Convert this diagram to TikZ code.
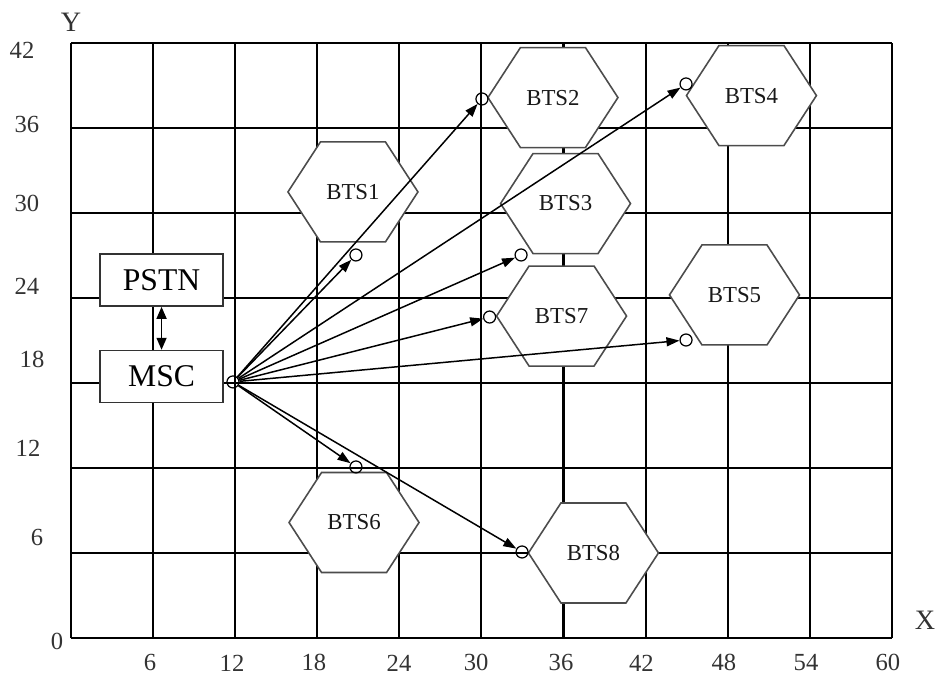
\documentclass[tikz,border=0pt]{standalone}
\usepackage{fontspec}
\setmainfont{Liberation Serif}
\usetikzlibrary{arrows.meta,calc}
\newcommand\hexcell[3]{%
  \draw[hexshape] ($(#2)+(-1.3cm,0)$) -- ++(0.65cm,1.0cm) -- ++(1.3cm,0) -- ++(0.65cm,-1.0cm) -- ++(-0.65cm,-1.0cm) -- ++(-1.3cm,0) -- cycle;
  \node[hexlabel] (#1) at (#2) {#3};}
\begin{document}
\begin{tikzpicture}[x=0.2736cm,y=0.2834cm,
  gridline/.style={line width=1.2pt,black},
  hexshape/.style={draw=black!70,line width=0.9pt,fill=white},
  hexlabel/.style={font=\fontsize{13}{15}\selectfont,text=black!90,inner sep=0pt},
  boxnode/.style={draw=black!80,line width=0.9pt,fill=white,minimum width=2.46cm,minimum height=1.04cm,inner sep=0pt,font=\fontsize{18}{20}\selectfont},
  port/.style={circle,draw,line width=0.7pt,minimum size=0.24cm,inner sep=0pt},
  link/.style={line width=0.85pt,-{Triangle[length=2.6mm,width=1.8mm]}},
  axlabel/.style={font=\fontsize{14}{16}\selectfont,text=black!80,inner sep=0pt}]
\useasboundingbox (-5.190,-2.611) rectangle (63.158,45.025);
% grid
\foreach \i in {0,6,...,60} \draw[gridline] (\i,0) -- (\i,42);
\foreach \j in {0,6,...,42} \draw[gridline] (0,\j) -- (60,\j);
% axis labels
\node[axlabel] (ly42) at (-3.58,41.50) {42};
\node[axlabel] (ly36) at (-3.22,36.27) {36};
\node[axlabel] (ly30) at (-3.22,30.70) {30};
\node[axlabel] (ly24) at (-3.22,24.84) {24};
\node[axlabel] (ly18) at (-2.85,19.69) {18};
\node[axlabel] (ly12) at (-3.14,13.41) {12};
\node[axlabel] (ly6) at (-2.48,7.06) {6};
\node[axlabel] (ly0) at (-1.02,-0.21) {0};
\node[axlabel] (lx6) at (5.77,-1.76) {6};
\node[axlabel] (lx12) at (11.77,-1.76) {12};
\node[axlabel] (lx18) at (17.76,-1.76) {18};
\node[axlabel] (lx24) at (23.98,-1.76) {24};
\node[axlabel] (lx30) at (29.61,-1.76) {30};
\node[axlabel] (lx36) at (35.82,-1.76) {36};
\node[axlabel] (lx42) at (41.70,-1.76) {42};
\node[axlabel] (lx48) at (47.73,-1.76) {48};
\node[axlabel] (lx54) at (53.73,-1.76) {54};
\node[axlabel] (lx60) at (59.72,-1.76) {60};
\node[axlabel,font=\fontsize{16}{18}\selectfont] (xlab) at (62.43,1.27) {X};
\node[axlabel,font=\fontsize{16}{18}\selectfont] (ylab) at (0,43.47) {Y};
% hexagons
\hexcell{bts1}{20.61,31.48}{BTS1}
\hexcell{bts2}{35.23,38.14}{BTS2}
\hexcell{bts3}{36.15,30.66}{BTS3}
\hexcell{bts7}{35.86,22.72}{BTS7}
\hexcell{bts4}{49.74,38.28}{BTS4}
\hexcell{bts5}{48.50,24.21}{BTS5}
\hexcell{bts6}{20.69,8.15}{BTS6}
\hexcell{bts8}{38.19,6.0}{BTS8}
% boxes
\node[boxnode] (pstn) at (6.62,25.26) {PSTN};
\node[boxnode] (msc) at (6.62,18.45) {MSC};
\draw[line width=0.9pt,{Triangle[length=2.4mm,width=2mm]}-{Triangle[length=2.4mm,width=2mm]}] (pstn) -- (msc);
% ports
\node[port] (src) at (11.84,18.07) {};
\node[port] (c1) at (20.83,27.03) {};
\node[port] (c2) at (30.04,38.04) {};
\node[port] (c3) at (32.90,27.03) {};
\node[port] (c7) at (30.60,22.65) {};
\node[port] (c4) at (44.96,39.10) {};
\node[port] (c5) at (44.96,21.03) {};
\node[port] (c6) at (20.83,12.07) {};
\node[port] (c8) at (32.97,6.07) {};
% links
\foreach \t in {c1,c2,c3,c7,c4,c5,c6,c8} \draw[link] (src) -- (\t);
\end{tikzpicture}
\end{document}
